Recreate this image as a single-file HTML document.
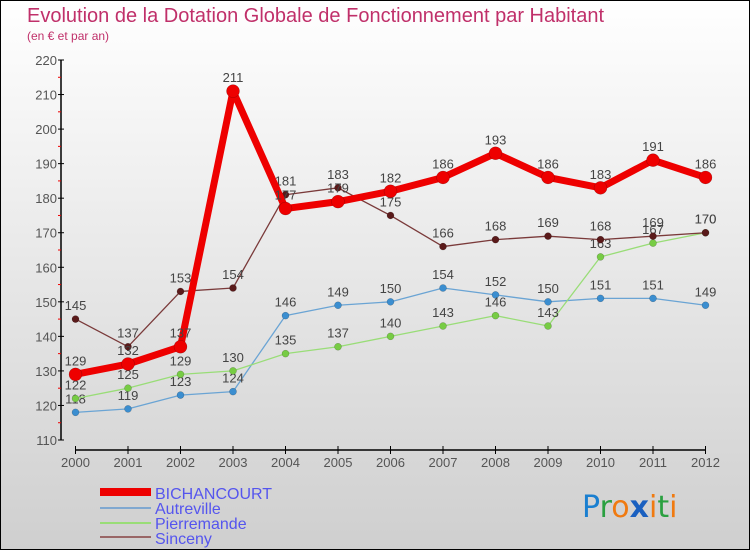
<!DOCTYPE html>
<html><head><meta charset="utf-8"><style>
body{margin:0}
svg{display:block;font-family:"Liberation Sans",sans-serif}
</style></head><body>
<svg width="750" height="550">
<defs><linearGradient id="bg" x1="0" y1="0" x2="0" y2="1"><stop offset="0" stop-color="#ffffff"/><stop offset="1" stop-color="#cfcfcf"/></linearGradient></defs>
<rect x="0.5" y="0.5" width="749" height="549" fill="url(#bg)" stroke="#000"/>
<text x="27" y="22" font-size="20" fill="#c0306a">Evolution de la Dotation Globale de Fonctionnement par Habitant</text>
<text x="27" y="40" font-size="12" fill="#c0306a">(en € et par an)</text>
<g id="axes"></g>
<g id="series"></g>
<g id="legend">
<rect x="100" y="488" width="51" height="8" fill="#e00"/>
<text x="155" y="499" font-size="16" fill="#5555ee">BICHANCOURT</text>
<rect x="100" y="507" width="51" height="2" fill="#80a8d0"/>
<text x="155" y="514" font-size="16" fill="#5555ee">Autreville</text>
<rect x="100" y="522" width="51" height="2" fill="#99dd77"/>
<text x="155" y="529" font-size="16" fill="#5555ee">Pierremande</text>
<rect x="100" y="536" width="51" height="2" fill="#996666"/>
<text x="155" y="544" font-size="16" fill="#5555ee">Sinceny</text>
</g>
<g font-size="30" font-family="'DejaVu Sans',sans-serif">
<text x="582" y="517"><tspan fill="#1a7fd0">P</tspan><tspan fill="#2aa040">r</tspan><tspan fill="#f07a10">o</tspan><tspan fill="#1a60c0" font-weight="bold">x</tspan><tspan fill="#f07a10">i</tspan><tspan fill="#2aa040">t</tspan><tspan fill="#f07a10">i</tspan></text>
</g>
</svg>
<script>
const years=[2000,2001,2002,2003,2004,2005,2006,2007,2008,2009,2010,2011,2012];
const bichancourt=[129,132,137,211,177,179,182,186,193,186,183,191,186];
const autreville=[118,119,123,124,146,149,150,154,152,150,151,151,149];
const pierremande=[122,125,129,130,135,137,140,143,146,143,163,167,170];
const sinceny=[145,137,153,154,181,183,175,166,168,169,168,169,170];
const yTicks=[110,120,130,140,150,160,170,180,190,200,210,220];
const NS='http://www.w3.org/2000/svg';
const xS=i=>75.5+i*52.5;
const yS=v=>440-(v-110)*3.4545;
function mk(t,a,p){const e=document.createElementNS(NS,t);for(const k in a)e.setAttribute(k,a[k]);p.appendChild(e);return e;}
const ax=document.getElementById('axes');
let yl=mk('line',{x1:61,y1:yS(220),x2:61,y2:yS(110),stroke:'#000','stroke-width':1.5},ax);


yTicks.forEach(v=>{
 mk('line',{x1:58,x2:64,y1:yS(v),y2:yS(v),stroke:'#000'},ax);
 if(v<220){mk('line',{x1:58,x2:61,y1:yS(v+5),y2:yS(v+5),stroke:'#e00'},ax);}
 const t=mk('text',{x:57,y:yS(v)+5,'font-size':13,fill:'#555','text-anchor':'end'},ax);t.textContent=v;
 
 
});
let xl=mk('line',{x1:xS(0),x2:xS(12),y1:450,y2:450,stroke:'#000','stroke-width':1.5},ax);


years.forEach((y,i)=>{
 mk('line',{x1:xS(i),x2:xS(i),y1:446,y2:454,stroke:'#000'},ax);
 const t=mk('text',{x:xS(i),y:467,'font-size':13,fill:'#555','text-anchor':'middle'},ax);t.textContent=y;
 
 
});
const sg=document.getElementById('series');
function draw(name,vals,color,dot,w,r){
 const g=mk('g',{},sg);
 
 
 const pl=mk('polyline',{points:vals.map((v,i)=>xS(i)+','+yS(v)).join(' '),fill:'none',stroke:color,'stroke-width':w,'stroke-linejoin':'round'},g);
 
 
 vals.forEach((v,i)=>{
  const c=mk('circle',{cx:xS(i),cy:yS(v),r:r,fill:dot,stroke:'rgba(0,0,0,0.3)','stroke-width':0.5},g);
  
  
  const t=mk('text',{x:xS(i),y:yS(v)-9,'font-size':13,fill:'#444','text-anchor':'middle'},g);t.textContent=v;
  
  
 });
}
draw('autreville',autreville,'#6aa4d4','#3b8ed0',1.3,3.5);
draw('pierremande',pierremande,'#99dd77','#77cc44',1.3,3.5);
draw('sinceny',sinceny,'#7a3a3a','#5a1a1a',1.3,3.5);
draw('bichancourt',bichancourt,'#ee0000','#ee0000',7,6.5);
</script>
</body></html>
